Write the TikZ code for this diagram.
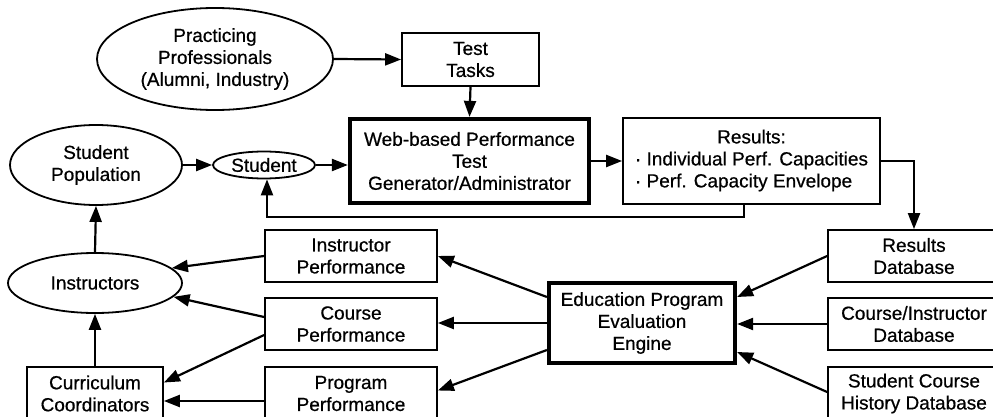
\documentclass[tikz,border=0pt]{standalone}
\usepackage{fontspec}
\setmainfont[FakeBold=0.6]{Liberation Sans}
\usetikzlibrary{shapes.geometric,arrows.meta,calc}
\begin{document}
\begin{tikzpicture}[x=1pt,y=-1pt,
  every node/.style={font=\fontsize{19}{22}\selectfont, inner sep=0pt, align=center},
  box/.style={draw, line width=1.8pt, rectangle, minimum width=#1},
  box/.default=172,
  thickbox/.style={draw, line width=4.2pt, rectangle},
  ell/.style={draw, line width=1.8pt, ellipse},
  conn/.style={line width=2.2pt, -{Triangle[length=16pt,width=12pt]}}
]
\useasboundingbox (0,0) rectangle (993,417);
\clip (0,0) rectangle (993,417);

% nodes
\node[ell, minimum width=236, minimum height=102] (prof) at (215,59) {Practicing\\Professionals\\(Alumni, Industry)};
\node[box=137, minimum height=53] (test) at (470.5,59.5) {Test\\Tasks};
\node[thickbox, minimum width=239, minimum height=84] (web) at (469.5,161) {Web-based Performance\\Test\\Generator/Administrator};
\node[box=257, minimum height=86] (res) at (751.5,161)
  {\begin{tabular}{@{}l@{}}\multicolumn{1}{@{}c@{}}{Results:}\\ · Individual Perf. Capacities\\ · Perf. Capacity Envelope\end{tabular}};
\node[ell, minimum width=172, minimum height=80] (stupop) at (96,165) {Student\\Population};
\node[ell, minimum width=102, minimum height=27] (stu) at (264,165) {Student};
\node[ell, minimum width=174, minimum height=60] (instr) at (95,283) {Instructors};
\node[box=136, minimum height=53] (cur) at (95,393.5) {Curriculum\\Coordinators};
\node[box, minimum height=52] (ip) at (351,256) {Instructor\\Performance};
\node[box, minimum height=52] (cp) at (351,324) {Course\\Performance};
\node[box, minimum height=53] (pp) at (351,393.5) {Program\\Performance};
\node[thickbox, minimum width=186, minimum height=80] (eng) at (642,323) {Education Program\\Evaluation\\Engine};
\node[box, minimum height=52] (rdb) at (914,256) {Results\\Database};
\node[box, minimum height=52] (cdb) at (914,324) {Course/Instructor\\Database};
\node[box, minimum height=53] (sdb) at (914,393.5) {Student Course\\History Database};

\coordinate (fb) at (744,217);

% connectors
\draw[conn] (prof.east) -- (test.west);
\draw[conn] (test.south) -- (web.north);
\draw[conn] (stupop.east) -- (stu.west);
\draw[conn] (stu.east) -- (stu.east -| web.west);
\draw[conn] (web.east) -- (res.west);
\draw[conn] (res.east) -| (rdb.north);
\draw[conn] (res.south -| fb) -- (fb) -| ($(stu.south)+(3,0)$);
\draw[conn] (instr.north) -- (stupop.south);
\draw[conn] (cur.north) -- (instr.south);
\draw[conn] (ip.west) -- (instr.11);
\draw[conn] ($(cp.west)+(0,-7)$) -- (instr.-10);
\draw[conn] ($(cp.west)+(0,11)$) -- ($(cur.east)+(0,-11)$);
\draw[conn] ($(pp.west)+(0,7.5)$) -- ($(cur.east)+(0,7.5)$);
\draw[conn] ($(eng.west)+(0,-26)$) -- (ip.east);
\draw[conn] (eng.west) -- (eng.west -| cp.east);
\draw[conn] ($(eng.west)+(0,27)$) -- ($(pp.east)+(0,-3)$);
\draw[conn] (rdb.west) -- ($(eng.east)+(0,-26)$);
\draw[conn] (cdb.west) -- (cdb.west -| eng.east);
\draw[conn] ($(sdb.west)+(0,-1.5)$) -- ($(eng.east)+(0,29)$);
\end{tikzpicture}
\end{document}
